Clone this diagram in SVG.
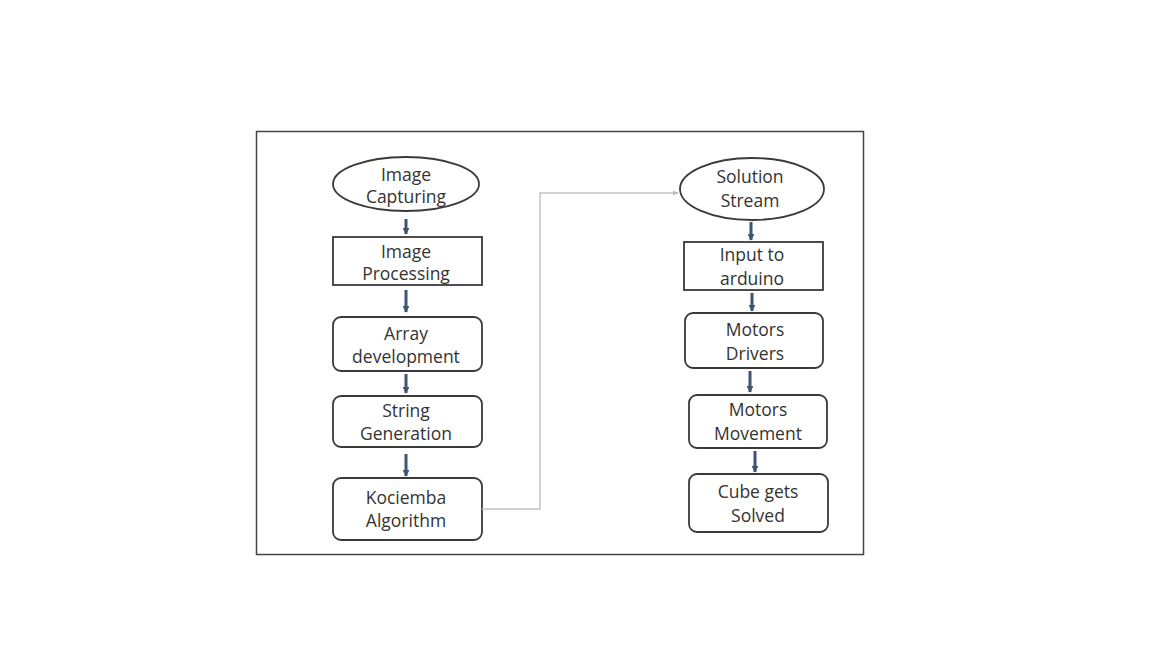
<svg xmlns="http://www.w3.org/2000/svg" width="1152" height="648" viewBox="0 0 1152 648">
<style>
.box{fill:#fff;stroke:#3a3a3a;stroke-width:1.8}
.t{font-family:"Open Sans","Liberation Sans",sans-serif;font-size:17.5px;fill:#333;text-anchor:middle}
.ar{stroke:#3f5473;stroke-width:3;fill:none}
.con{stroke:#c4c4c4;stroke-width:1.5;fill:none}
</style>
<defs>
<marker id="ah" viewBox="0 0 10 10" refX="9" refY="5" markerWidth="2.2" markerHeight="2.2" orient="auto"><path d="M0,0L10,5L0,10z" fill="#3f5473"/></marker>
<marker id="ag" viewBox="0 0 10 10" refX="9" refY="5" markerWidth="4" markerHeight="4" orient="auto"><path d="M0,1L10,5L0,9z" fill="#bbb"/></marker>
</defs>
<rect width="1152" height="648" fill="#fff"/>
<rect x="256.5" y="131.5" width="607" height="423" fill="#fff" stroke="#444" stroke-width="1.5"/>
<g id="n1"><ellipse class="box" cx="406" cy="184" rx="73" ry="27"/><text class="t" x="406" y="181">Image</text><text class="t" x="406" y="203">Capturing</text></g>
<g id="n2"><rect class="box" x="333" y="237" width="149" height="48"/><text class="t" x="406" y="258">Image</text><text class="t" x="406" y="280">Processing</text></g>
<g id="n3"><rect class="box" x="333" y="317" width="149" height="54" rx="8"/><text class="t" x="406" y="340">Array</text><text class="t" x="406" y="363">development</text></g>
<g id="n4"><rect class="box" x="333" y="396" width="149" height="51" rx="8"/><text class="t" x="406" y="417">String</text><text class="t" x="406" y="440">Generation</text></g>
<g id="n5"><rect class="box" x="333" y="478" width="149" height="62" rx="8"/><text class="t" x="406" y="504">Kociemba</text><text class="t" x="406" y="527">Algorithm</text></g>
<g id="n6"><ellipse class="box" cx="752" cy="189" rx="72" ry="31"/><text class="t" x="750" y="183">Solution</text><text class="t" x="750" y="207">Stream</text></g>
<g id="n7"><rect class="box" x="684" y="242" width="139" height="48"/><text class="t" x="752" y="261">Input to</text><text class="t" x="752" y="285">arduino</text></g>
<g id="n8"><rect class="box" x="685" y="313" width="138" height="55" rx="8"/><text class="t" x="755" y="336">Motors</text><text class="t" x="755" y="360">Drivers</text></g>
<g id="n9"><rect class="box" x="689" y="395" width="138" height="53" rx="8"/><text class="t" x="758" y="416">Motors</text><text class="t" x="758" y="440">Movement</text></g>
<g id="n10"><rect class="box" x="689" y="474" width="139" height="58" rx="8"/><text class="t" x="758" y="498">Cube gets</text><text class="t" x="758" y="522">Solved</text></g>
<g id="connectors">
<line class="ar" x1="406" y1="219" x2="406" y2="234" marker-end="url(#ah)"/>
<line class="ar" x1="406" y1="290" x2="406" y2="312" marker-end="url(#ah)"/>
<line class="ar" x1="406" y1="374" x2="406" y2="393" marker-end="url(#ah)"/>
<line class="ar" x1="406" y1="454" x2="406" y2="476" marker-end="url(#ah)"/>
<polyline class="con" points="482,509 540,509 540,193 678,193" marker-end="url(#ag)"/>
<line class="ar" x1="751" y1="222" x2="751" y2="240" marker-end="url(#ah)"/>
<line class="ar" x1="752" y1="293" x2="752" y2="311" marker-end="url(#ah)"/>
<line class="ar" x1="750" y1="371" x2="750" y2="392" marker-end="url(#ah)"/>
<line class="ar" x1="755" y1="451" x2="755" y2="472" marker-end="url(#ah)"/>
</g>
</svg>
